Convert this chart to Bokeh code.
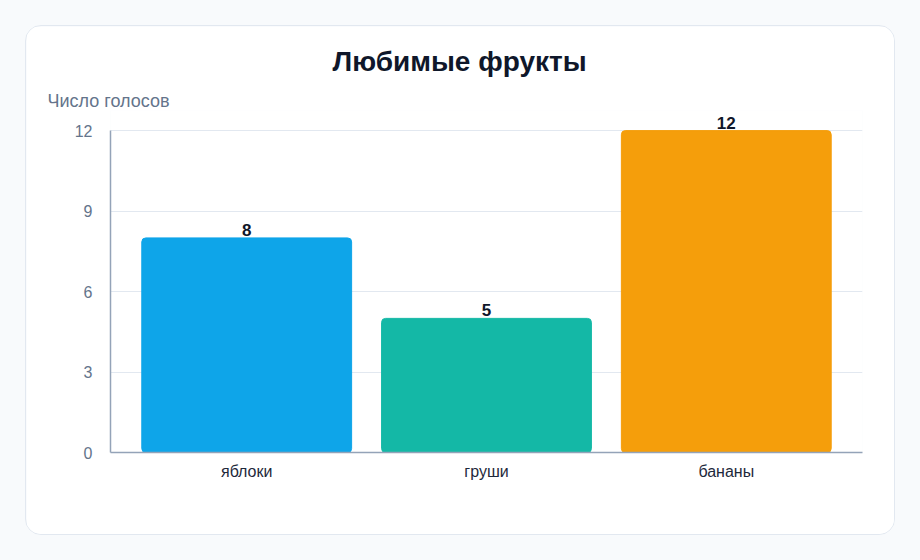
from bokeh.plotting import figure
from bokeh.models import ColumnDataSource, LabelSet, Title, FactorRange
from bokeh.core.properties import value
from bokeh.layouts import column
from bokeh.embed import file_html
from bokeh.resources import INLINE

# data
fruits = ["яблоки", "груши", "бананы"]
votes = [8, 5, 12]
bar_colors = ["#0ea5e9", "#14b8a6", "#f59e0b"]
y_ticks = [0, 3, 6, 9, 12]

FONT = "Liberation Sans"

src = ColumnDataSource(dict(fruit=fruits, votes=votes, color=bar_colors,
                            label=[str(v) for v in votes]))

x_range = FactorRange(*fruits, range_padding=0.068, range_padding_units="absolute")

# a little headroom above 12 so the "12" label is not clipped
p = figure(x_range=x_range, y_range=(0, 12.75), frame_width=750, frame_height=340,
           output_backend="svg", toolbar_location=None, title_location=None,
           min_border_left=84, min_border_right=34, min_border_bottom=84,
           min_border_top=84, background_fill_color="white",
           border_fill_color="white",
           styles={"border": "1px solid #e2e8f0", "border-radius": "16px",
                   "overflow": "hidden"})

p.add_layout(Title(text="Число голосов", align="left", offset=-63, standoff=0,
                   text_font=FONT, text_font_size="18px", text_font_style="normal",
                   text_color="#64748b"), "above")
p.add_layout(Title(text="Любимые фрукты", align="left", offset=222, standoff=24,
                   text_font=FONT, text_font_size="28px", text_font_style="bold",
                   text_color="#0f172a"), "above")

p.vbar(x="fruit", top="votes", width=0.875, color="color", source=src,
       border_radius=4)

labels = LabelSet(x="fruit", y="votes", text="label", source=src,
                  text_align="center", text_baseline="alphabetic", y_offset=2,
                  text_font=value(FONT), text_font_size=value("17px"),
                  text_font_style="bold", text_color="#0f172a")
p.add_layout(labels)

p.outline_line_color = None
p.xgrid.grid_line_color = None
p.ygrid.grid_line_color = "#e2e8f0"
p.ygrid.grid_line_width = 1

p.yaxis.ticker = y_ticks
p.yaxis.bounds = (0, 12)
p.yaxis.axis_line_color = "#94a3b8"
p.yaxis.axis_line_width = 1.5
p.yaxis.major_tick_line_color = None
p.yaxis.minor_tick_line_color = None
p.yaxis.major_label_standoff = 12
p.yaxis.major_label_text_font = FONT
p.yaxis.major_label_text_font_size = "16px"
p.yaxis.major_label_text_color = "#64748b"

p.xaxis.axis_line_color = "#94a3b8"
p.xaxis.axis_line_width = 1.5
p.xaxis.major_tick_line_color = None
p.xaxis.major_label_standoff = 4
p.xaxis.major_label_text_font = FONT
p.xaxis.major_label_text_font_size = "16px"
p.xaxis.major_label_text_color = "#1e293b"

page = column(p, styles={"margin": "-8px", "padding": "33px",
                         "background-color": "#f8fafc"})

open("out.html", "w").write(file_html(page, INLINE))
